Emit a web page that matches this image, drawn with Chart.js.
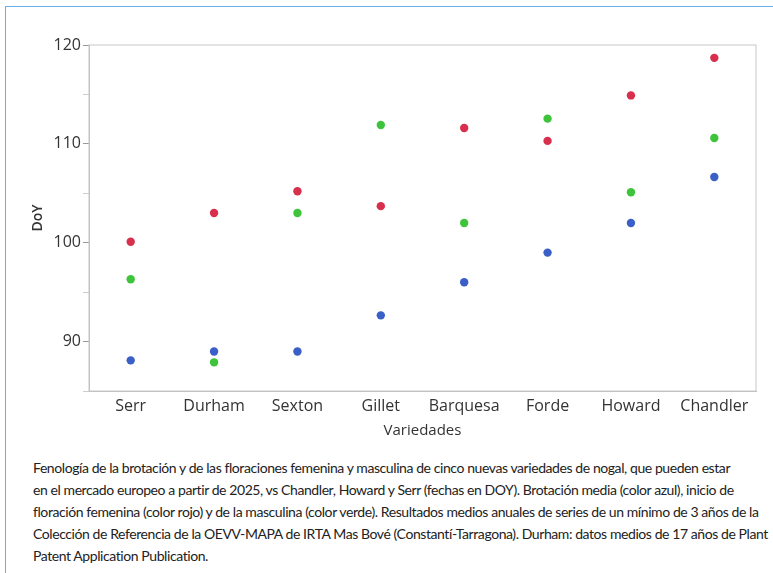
<!DOCTYPE html>
<html><head><meta charset="utf-8">
<script src="https://cdn.jsdelivr.net/npm/chart.js@4/dist/chart.umd.min.js"></script>
<style>
html,body{margin:0;padding:0;background:#fff;width:773px;height:573px;overflow:hidden}
#frame{position:absolute;left:5px;top:6px;width:800px;height:600px;border-left:1.5px solid #6aaee6;border-top:1.5px solid #6aaee6}
#wrap{position:absolute;left:0;top:0;width:773px;height:440px}
#cap{position:absolute;left:33px;top:457px;width:740px;font-family:"Lato","Open Sans",sans-serif;font-size:14px;line-height:22px;color:#222;letter-spacing:-0.42px;white-space:nowrap}
</style></head>
<body>
<div id="frame"></div>
<div id="wrap"><canvas id="c" width="773" height="440"></canvas></div>
<div id="cap">Fenología de la brotación y de las floraciones femenina y masculina de cinco nuevas variedades de nogal, que pueden estar<br>en el mercado europeo a partir de 2025, vs Chandler, Howard y Serr (fechas en DOY). Brotación media (color azul), inicio de<br>floración femenina (color rojo) y de la masculina (color verde). Resultados medios anuales de series de un mínimo de 3 años de la<br>Colección de Referencia de la OEVV-MAPA de IRTA Mas Bové (Constantí-Tarragona). Durham: datos medios de 17 años de Plant<br>Patent Application Publication.</div>
<script>
const categories = ["Serr","Durham","Sexton","Gillet","Barquesa","Forde","Howard","Chandler"];
const brotacion = [88.1, 89.0, 89.0, 92.65, 96.0, 99.0, 102.0, 106.65];
const floracionFemenina = [100.1, 103.0, 105.2, 103.7, 111.6, 110.3, 114.9, 118.7];
const floracionMasculina = [96.3, 87.9, 103.0, 111.9, 102.0, 112.55, 105.1, 110.6];
const yTickLabels = [90, 100, 110, 120];

const frameBox = {
  id: 'frameBox',
  afterDraw(chart){
    const a = chart.chartArea, ctx = chart.ctx;
    ctx.save();
    ctx.strokeStyle = '#c8c8c8';
    ctx.lineWidth = 1;
    ctx.strokeRect(a.left, a.top, a.right - a.left, a.bottom - a.top);
    ctx.restore();
  }
};

const mk = (label, data, color) => ({
  label, data, showLine: false,
  pointRadius: 4.2, pointHoverRadius: 4.2,
  pointBackgroundColor: color, pointBorderColor: color, borderColor: color, pointBorderWidth: 0
});

new Chart(document.getElementById('c'), {
  type: 'line',
  data: {
    labels: categories,
    datasets: [
      mk('Brotación media', brotacion, '#3a5fc6'),
      mk('Floración femenina', floracionFemenina, '#d8304c'),
      mk('Floración masculina', floracionMasculina, '#3ec43a')
    ]
  },
  plugins: [frameBox],
  options: {
    responsive: false, animation: false,
    layout: { padding: { top: 45, right: 17, left: 30, bottom: 0 } },
    plugins: { legend: { display: false }, tooltip: { enabled: false } },
    scales: {
      x: {
        type: 'category', offset: true,
        grid: { display: false, drawTicks: false },
        border: { display: true, color: '#bdbdbd' },
        ticks: { color: '#333', font: { family: 'Open Sans', size: 16 }, padding: 6, maxRotation: 0, autoSkip: false },
        title: { display: true, text: 'Variedades', color: '#333', font: { family: 'Open Sans', size: 15 }, padding: { top: -12, bottom: 0 } },
        afterFit(s){ s.height = 49; }
      },
      y: {
        min: 85, max: 120,
        grid: { drawOnChartArea: false, drawTicks: true, tickLength: 6,
          tickColor: c => (c.tick && c.tick.value % 10 === 0) ? '#999' : '#ccc' },
        border: { display: true, color: '#bdbdbd' },
        ticks: { stepSize: 5, color: '#333', font: { family: 'Open Sans', size: 16 }, padding: 2,
          callback: v => yTickLabels.includes(v) ? String(v) : '' },
        title: { display: true, text: 'DoY', color: '#333', font: { family: 'Open Sans', size: 14, weight: '600' }, padding: { top: 0, bottom: 4 } },
        afterFit(s){ s.width = 59; }
      }
    }
  }
});
</script>
</body></html>
